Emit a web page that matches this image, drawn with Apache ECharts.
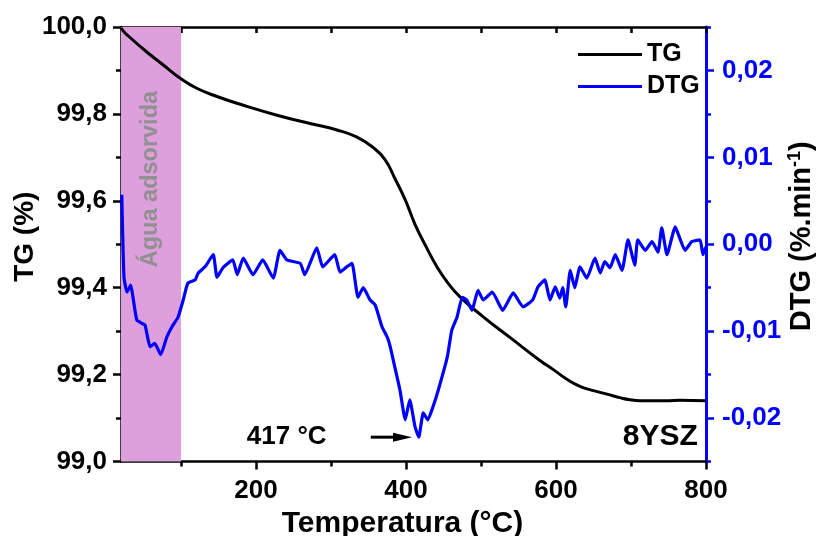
<!DOCTYPE html>
<html>
<head>
<meta charset="utf-8">
<script src="https://cdn.jsdelivr.net/npm/echarts@6/dist/echarts.min.js"></script>
<style>
html,body{margin:0;padding:0;background:#fff;}
#chart{width:816px;height:536px;}
</style>
</head>
<body>
<div id="chart"></div>
<script>
// ---- data (temperature °C, TG %, DTG %/min) ----
const tgTemp = [20, 22, 28, 54, 76, 99, 121, 148, 183, 228, 272, 308, 334, 356, 372, 385, 399, 412, 429, 441, 455, 472, 503, 539, 579, 596, 614, 632, 650, 668, 685, 699, 712, 748, 765, 800];
const tgVal  = [99.998, 99.993, 99.982, 99.943, 99.913, 99.882, 99.859, 99.840, 99.820, 99.797, 99.778, 99.763, 99.747, 99.723, 99.695, 99.652, 99.602, 99.546, 99.487, 99.449, 99.413, 99.379, 99.333, 99.285, 99.232, 99.212, 99.190, 99.173, 99.163, 99.155, 99.147, 99.142, 99.140, 99.140, 99.141, 99.140];

const dtgTemp = [21, 24, 28, 33, 36, 41, 48, 52, 59, 65, 73, 81, 88, 96, 103, 109, 119, 123, 132, 143, 148, 156, 169, 175, 183, 196, 209, 223, 232, 241, 259, 265, 281, 289, 305, 312, 321, 328, 336, 343, 352, 359, 368, 375, 379, 385, 392, 399, 405, 412, 417, 423, 429, 436, 443, 455, 461, 468, 475, 481, 488, 496, 503, 515, 529, 543, 556, 569, 576, 585, 592, 599, 605, 609, 613, 619, 625, 632, 641, 652, 659, 665, 672, 679, 688, 696, 705, 709, 719, 728, 736, 741, 748, 759, 765, 772, 781, 792, 796, 800];
const dtgVal  = [0.0057, -0.0038, -0.0055, -0.0047, -0.0061, -0.0087, -0.0091, -0.0093, -0.0118, -0.0114, -0.0127, -0.0107, -0.0095, -0.0084, -0.0064, -0.0045, -0.0041, -0.0033, -0.0026, -0.0012, -0.0038, -0.0027, -0.0018, -0.0035, -0.0016, -0.0035, -0.0018, -0.0039, -0.0007, -0.0018, -0.0022, -0.0035, -0.0004, -0.0026, -0.0012, -0.0032, -0.0026, -0.0022, -0.0061, -0.0050, -0.0064, -0.0070, -0.0095, -0.0107, -0.0118, -0.0141, -0.0168, -0.0202, -0.0179, -0.0210, -0.0222, -0.0194, -0.0202, -0.0187, -0.0168, -0.0130, -0.0099, -0.0084, -0.0061, -0.0064, -0.0076, -0.0053, -0.0064, -0.0055, -0.0076, -0.0056, -0.0072, -0.0064, -0.0049, -0.0041, -0.0064, -0.0049, -0.0062, -0.0050, -0.0072, -0.0030, -0.0050, -0.0026, -0.0039, -0.0016, -0.0033, -0.0020, -0.0027, -0.0012, -0.0030, 0.0005, -0.0024, 0.0005, -0.0007, 0.0003, -0.0009, 0.0019, -0.0012, 0.0020, 0.0007, -0.0007, 0.0003, 0.0005, -0.0012, -0.0003];

const xLabelValues = [200, 400, 600, 800];
const xMinorTicks = [100, 300, 500, 700];
const xTopTicks = [100, 200, 300, 400, 500, 600, 700, 800];
const dtgLabelValues = [-0.02, -0.01, 0, 0.01, 0.02];
const dtgMinorTicks = [-0.025, -0.015, -0.005, 0.005, 0.015, 0.025];
const waterRange = [20, 100];
const peakTemp = 417;

const FONT = '"Liberation Sans", Arial, sans-serif';
const BLUE = '#0000FF';
const comma = (v, d) => v.toFixed(d).replace('.', ',');

const chart = echarts.init(document.getElementById('chart'), null, {renderer: 'canvas'});

const option = {
  animation: false,
  backgroundColor: '#fff',
  textStyle: {fontFamily: FONT},
  grid: {left: 121, right: 110, top: 27, bottom: 74.5, containLabel: false, outerBoundsMode: 'none'},
  legend: {
    orient: 'vertical', left: 573, top: 37,
    itemWidth: 64, itemHeight: 3, itemGap: 7, icon: 'rect',
    textStyle: {fontSize: 25, fontWeight: 'bold', color: '#000', fontFamily: FONT, lineHeight: 25},
    data: ['TG', 'DTG']
  },
  xAxis: [
    {
      type: 'value', position: 'bottom', min: 20, max: 800,
      name: 'Temperatura (°C)', nameLocation: 'middle', nameGap: 42,
      nameTextStyle: {fontSize: 30, fontWeight: 'bold', color: '#000', fontFamily: FONT, padding: [0, 22, 0, 0]},
      axisLine: {show: true, onZero: false, lineStyle: {color: '#000', width: 2.5}},
      axisTick: {show: true, inside: false, length: 8, lineStyle: {color: '#000', width: 2.5}, customValues: xLabelValues},
      axisLabel: {show: true, margin: 16, fontSize: 26, fontWeight: 'bold', color: '#000', fontFamily: FONT, customValues: xLabelValues, formatter: v => String(v)},
      splitLine: {show: false}
    },
    {
      type: 'value', position: 'bottom', min: 20, max: 800,
      axisLine: {show: false, onZero: false},
      axisTick: {show: true, inside: false, length: 5, lineStyle: {color: '#000', width: 2.5}, customValues: xMinorTicks},
      axisLabel: {show: false},
      splitLine: {show: false}
    },
    {
      type: 'value', position: 'top', min: 20, max: 800,
      axisLine: {show: true, onZero: false, lineStyle: {color: '#000', width: 2.5}},
      axisTick: {show: true, inside: true, length: 6, lineStyle: {color: '#000', width: 2.5}, customValues: xTopTicks},
      axisLabel: {show: false},
      splitLine: {show: false}
    }
  ],
  yAxis: [
    {
      type: 'value', position: 'left', min: 99, max: 100, interval: 0.2,
      name: 'TG (%)', nameLocation: 'middle', nameGap: 82, nameRotate: 90, nameMoveOverlap: false,
      nameTextStyle: {fontSize: 28, fontWeight: 'bold', color: '#000', fontFamily: FONT, padding: [0, 0, 0, 15]},
      axisLine: {show: true, onZero: false, lineStyle: {color: '#000', width: 2.5}},
      axisTick: {show: true, inside: false, length: 8, lineStyle: {color: '#000', width: 2.5}},
      minorTick: {show: true, splitNumber: 2, length: 5, lineStyle: {color: '#000', width: 2.5}},
      axisLabel: {margin: 14, fontSize: 26, fontWeight: 'bold', color: '#000', fontFamily: FONT, formatter: v => comma(v, 1)},
      splitLine: {show: false}, minorSplitLine: {show: false}
    },
    {
      type: 'value', position: 'right', min: -0.025, max: 0.025,
      name: 'DTG (%.min{sup|-1})', nameLocation: 'middle', nameGap: 80, nameRotate: 90, nameMoveOverlap: false,
      nameTextStyle: {fontSize: 29, fontWeight: 'bold', color: '#000', fontFamily: FONT, padding: [0, 0, 0, 16],
        rich: {sup: {fontSize: 18, fontWeight: 'bold', color: '#000', fontFamily: FONT, padding: [0, 0, 14, 0]}}},
      axisLine: {show: true, onZero: false, lineStyle: {color: BLUE, width: 3}},
      axisTick: {show: true, inside: false, length: 8, lineStyle: {color: BLUE, width: 2.5}, customValues: dtgLabelValues},
      axisLabel: {margin: 16, fontSize: 26, fontWeight: 'bold', color: BLUE, fontFamily: FONT, customValues: dtgLabelValues, formatter: v => comma(v, 2)},
      splitLine: {show: false}
    },
    {
      type: 'value', position: 'right', min: -0.025, max: 0.025,
      axisLine: {show: false, onZero: false},
      axisTick: {show: true, inside: false, length: 5, lineStyle: {color: BLUE, width: 2.5}, customValues: dtgMinorTicks},
      axisLabel: {show: false},
      splitLine: {show: false}
    }
  ],
  series: [
    {
      name: 'TG', type: 'line', xAxisIndex: 0, yAxisIndex: 0,
      data: tgTemp.map((t, i) => [t, tgVal[i]]),
      showSymbol: false, symbol: 'none', smooth: 0.5,
      color: '#000', lineStyle: {color: '#000', width: 3}, z: 3,
      markArea: {
        silent: true,
        itemStyle: {color: '#DDA0DD', opacity: 1},
        data: [[{xAxis: waterRange[0]}, {xAxis: waterRange[1]}]]
      }
    },
    {
      name: 'DTG', type: 'line', xAxisIndex: 0, yAxisIndex: 1,
      data: dtgTemp.map((t, i) => [t, dtgVal[i]]),
      showSymbol: false, symbol: 'none', smooth: 0.15,
      color: BLUE, lineStyle: {color: BLUE, width: 3.2}, z: 4
    }
  ]
};
chart.setOption(option);

// annotations placed through the axes
const annoTG = 99.056;
const toPx = (t, v) => chart.convertToPixel({xAxisIndex: 0, yAxisIndex: 0}, [t, v]);
const pWater = toPx((waterRange[0] + waterRange[1]) / 2, 99.65);
const pPeakTxt = toPx(241, annoTG);
const pArrowA = toPx(353, annoTG);
const pArrowB = toPx(peakTemp - 9, annoTG);
const pSample = toPx(739, annoTG);

chart.setOption({
  graphic: [
    {type: 'text', x: pWater[0], y: pWater[1], rotation: Math.PI / 2, z: 2,
      style: {text: 'Água adsorvida', fill: '#909090', font: 'bold 23.5px ' + FONT, align: 'center', verticalAlign: 'middle'}},
    {type: 'text', x: pPeakTxt[0], y: pPeakTxt[1], z: 10,
      style: {text: peakTemp + ' °C', fill: '#000', font: 'bold 26px ' + FONT, align: 'center', verticalAlign: 'middle'}},
    {type: 'line', z: 10, shape: {x1: pArrowA[0], y1: pArrowA[1], x2: pArrowB[0] - 16, y2: pArrowB[1]},
      style: {stroke: '#000', lineWidth: 3}},
    {type: 'polygon', z: 10, shape: {points: [[pArrowB[0] - 19, pArrowB[1] - 4.5], [pArrowB[0], pArrowB[1]], [pArrowB[0] - 19, pArrowB[1] + 4.5]]},
      style: {fill: '#000'}},
    {type: 'text', x: pSample[0], y: pSample[1], z: 10,
      style: {text: '8YSZ', fill: '#000', font: 'bold 30px ' + FONT, align: 'center', verticalAlign: 'middle'}}
  ]
});
</script>
</body>
</html>
